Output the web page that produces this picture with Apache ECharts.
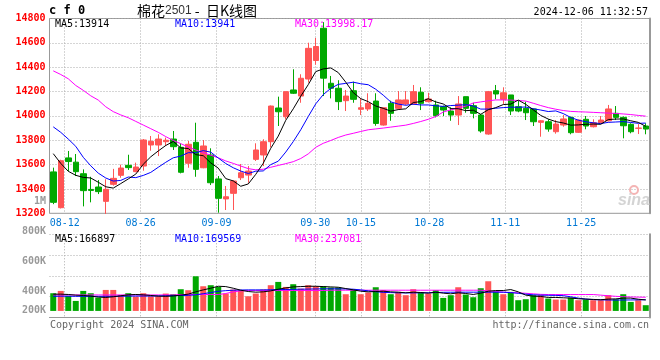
<!DOCTYPE html>
<html><head><meta charset="utf-8">
<script src="https://cdn.jsdelivr.net/npm/echarts@6/dist/echarts.min.js"></script>
<style>html,body{margin:0;padding:0;background:#fff}#c{width:660px;height:360px}</style>
</head><body><div id="c"></div>
<script>
const dates = ['08-08','08-09','08-12','08-13','08-14','08-15','08-16','08-19','08-20','08-21','08-22','08-23','08-26','08-27','08-28','08-29','08-30','09-02','09-03','09-04','09-05','09-06','09-09','09-10','09-11','09-12','09-13','09-18','09-19','09-20','09-23','09-24','09-25','09-26','09-27','09-30','10-08','10-09','10-10','10-11','10-14','10-15','10-16','10-17','10-18','10-21','10-22','10-23','10-24','10-25','10-28','10-29','10-30','10-31','11-01','11-04','11-05','11-06','11-07','11-08','11-11','11-12','11-13','11-14','11-15','11-18','11-19','11-20','11-21','11-22','11-25','11-26','11-27','11-28','11-29','12-02','12-03','12-04','12-05','12-06'];
const opens = [13540,13246,13655,13620,13525,13396,13416,13298,13438,13512,13594,13542,13588,13761,13761,13788,13810,13742,13611,13783,13574,13679,13482,13318,13364,13492,13514,13643,13679,13788,14065,13993,14213,14163,14303,14455,14720,14268,14227,14125,14207,14054,14057,14122,13925,14103,14062,14098,14098,14194,14117,14090,14076,14040,14007,14158,14084,14007,13851,14207,14136,14172,14076,14062,14057,13947,13952,13870,13925,13988,13865,13972,13911,13944,13960,14021,13988,13931,13898,13917];
const closes = [13290,13632,13625,13542,13386,13388,13378,13397,13487,13572,13575,13580,13802,13791,13810,13800,13747,13537,13767,13561,13753,13451,13323,13336,13465,13533,13547,13720,13788,14081,14034,14199,14186,14309,14555,14570,14310,14227,14117,14163,14136,14067,14103,13938,14067,14021,14131,14131,14199,14103,14139,14002,14048,14007,14098,14062,14021,13876,14199,14180,14190,14040,14040,14026,13952,13960,13892,13933,13975,13862,13966,13917,13944,13966,14057,13988,13919,13870,13900,13892];
const highs = [13575,13640,13712,13687,13561,13500,13473,13480,13565,13600,13681,13616,13810,13835,13849,13822,13876,13775,13794,13944,13802,13734,13506,13424,13470,13605,13588,13775,13808,14085,14158,14200,14383,14342,14601,14640,14770,14328,14293,14213,14281,14144,14186,14186,14070,14125,14204,14204,14254,14235,14190,14125,14085,14071,14163,14158,14108,14015,14205,14254,14235,14172,14125,14117,14060,13965,13972,13966,14007,13995,13970,13999,13972,13999,14090,14081,13995,13939,13933,13939];
const lows = [13275,13240,13545,13506,13257,13290,13358,13195,13427,13492,13556,13538,13550,13714,13670,13753,13720,13528,13574,13500,13570,13432,13205,13227,13227,13473,13451,13630,13588,13742,13917,13972,14180,14108,14273,14420,14163,14144,14048,14040,14108,14007,14040,13919,13920,13960,14050,14090,14090,14048,14110,13988,13999,13960,13925,14026,13980,13862,13845,14136,14098,14007,14030,13966,13917,13829,13870,13854,13911,13849,13860,13890,13905,13940,13955,13966,13816,13857,13851,13849];
const ma5 = [13690,13610,13545,13512,13495,13490,13455,13418,13407,13444,13482,13522,13603,13664,13712,13757,13790,13737,13732,13682,13673,13614,13571,13485,13466,13422,13441,13520,13611,13734,13834,13964,14058,14162,14257,14364,14386,14394,14356,14277,14191,14142,14117,14081,14062,14039,14052,14058,14110,14117,14141,14115,14098,14060,14059,14043,14047,14013,14051,14068,14093,14097,14130,14095,14050,14004,13974,13953,13942,13924,13926,13931,13933,13931,13970,13974,13975,13960,13947,13914];
const ma10 = [13910,13865,13810,13750,13660,13590,13530,13490,13465,13470,13498,13493,13511,13536,13578,13619,13656,13670,13698,13697,13715,13702,13654,13609,13574,13547,13527,13546,13548,13600,13628,13703,13789,13886,13995,14099,14175,14226,14259,14267,14277,14264,14256,14219,14170,14115,14097,14087,14096,14090,14090,14083,14078,14085,14088,14092,14081,14056,14056,14063,14068,14072,14071,14073,14059,14048,14036,14041,14019,13987,13965,13952,13943,13937,13947,13950,13953,13946,13939,13941];
const ma30 = [14370,14340,14305,14250,14210,14165,14130,14075,14035,14008,13985,13955,13925,13895,13865,13830,13798,13772,13745,13720,13698,13677,13656,13630,13610,13588,13567,13557,13562,13578,13593,13608,13624,13650,13688,13742,13775,13798,13823,13843,13857,13872,13886,13893,13900,13908,13916,13924,13938,13954,13972,13995,14032,14050,14064,14080,14106,14115,14124,14131,14131,14130,14126,14122,14104,14085,14068,14055,14044,14037,14034,14032,14029,14026,14023,14020,14016,14011,14004,13998];
// volume in thousands (K)
const volumes = [269,304,228,152,304,269,202,319,319,243,269,217,269,223,223,264,254,330,315,527,375,391,365,264,325,315,223,264,325,391,441,365,406,340,391,375,375,356,356,254,325,254,280,360,315,254,289,239,330,284,264,315,198,239,360,249,208,345,451,299,254,289,163,178,239,239,188,173,173,204,163,173,163,163,239,178,254,137,163,87];
const volMa5 = [254,255,250,240,235,225,210,205,215,230,245,250,245,235,225,222,228,240,255,290,320,345,375,370,345,315,295,285,290,305,330,350,365,370,375,375,370,365,360,340,320,300,290,295,300,290,285,275,285,280,270,285,270,260,275,265,250,270,300,310,310,325,290,240,225,220,205,205,200,195,185,180,175,170,180,183,195,195,178,167];
const volMa10 = [222,224,224,222,222,222,222,222,222,224,225,226,226,226,228,230,232,234,237,245,262,280,298,308,315,318,320,320,320,322,324,326,328,330,332,334,336,336,336,334,330,320,305,292,282,278,275,274,274,275,276,280,283,284,285,285,285,285,285,285,284,278,268,255,245,240,238,236,232,215,195,180,172,168,166,165,166,167,168,170];
const volMa30 = [243,243,243,243,243,243,243,243,243,243,243,243,243,243,243,243,243,249,249,249,249,249,249,265,290,305,310,310,310,310,310,310,310,310,310,310,310,315,315,315,315,315,315,315,315,315,315,315,315,315,315,315,315,315,315,315,315,315,305,295,285,280,275,268,260,252,249,249,249,249,249,249,249,240,230,222,216,212,210,208];
const xLabelDates = ['08-12','08-26','09-09','09-30','10-15','10-28','11-11','11-25'];
const priceMin = 13200, priceMax = 14800, priceStep = 200;
const volTickLabels = ['800K','600K','400K','200K'];
const priceLegend = ['MA5:13914','MA10:13941','MA30:13998.17'];
const volLegend = ['MA5:166897','MA10:169569','MA30:237081'];

const MONO = "'DejaVu Sans Mono','Liberation Mono',monospace";
const RED = '#ff5555', GREEN = '#00a800', GRID = '#aaaaaa', FRAME = '#999999';
const isLabel = (idx, val) => xLabelDates.indexOf(val) >= 0;

function txt(text, x, y, fill, font, align) {
  return {type:'text', x:x, y:y, silent:true, z:100,
    style:{text:text, fill:fill, font:font || ('10px ' + MONO), textAlign:align || 'left', textVerticalAlign:'middle'}};
}

const chart = echarts.init(document.getElementById('c'), null, {renderer:'canvas'});
const dotted = {color:GRID, type:[1,2], width:1};

const graphics = [
  txt('c f 0', 49, 11, '#000', 'bold 12px ' + MONO),
  {type:'text', x:137, y:11, silent:true, style:{text:'{cn|棉花}{num|2501}{cn| -  日K线图}', textVerticalAlign:'middle',
    rich:{cn:{fontFamily:"'Noto Sans CJK SC'", fontSize:14, fill:'#000'}, num:{fontFamily:"'Liberation Sans',sans-serif", fontSize:12, fill:'#333'}}}},
  txt('2024-12-06 11:32:57', 648, 12, '#000', '10px ' + MONO, 'right'),
  txt(priceLegend[0], 55, 24, '#000'),
  txt(priceLegend[1], 175, 24, '#0000ff'),
  txt(priceLegend[2], 295, 24, '#ff00ff'),
  txt(volLegend[0], 55, 239, '#000'),
  txt(volLegend[1], 175, 239, '#0000ff'),
  txt(volLegend[2], 295, 239, '#ff00ff'),
  txt('1M', 46, 201, '#999', 'bold 10px ' + MONO, 'right'),
  txt(volTickLabels[0], 46, 231, '#999', 'bold 10px ' + MONO, 'right'),
  txt(volTickLabels[1], 46, 261, '#999', 'bold 10px ' + MONO, 'right'),
  txt(volTickLabels[2], 46, 291, '#999', 'bold 10px ' + MONO, 'right'),
  txt(volTickLabels[3], 46, 310, '#999', 'bold 10px ' + MONO, 'right'),
  txt('Copyright 2024 SINA.COM', 50, 325, '#666'),
  txt('http://finance.sina.com.cn', 649, 325, '#666', '10px ' + MONO, 'right'),
  {type:'circle', shape:{cx:634, cy:190, r:4}, silent:true, z:1, style:{fill:'none', stroke:'#f4b4b4', lineWidth:2}},
  txt('sina', 618, 201, '#d4d4d4', 'italic bold 16px Arial, sans-serif')
];

const option = {
  animation:false,
  backgroundColor:'#fff',
  graphic: graphics,
  grid:[
    {left:49.5, width:600, top:18.5, height:194.8, show:true, borderColor:FRAME, borderWidth:1, backgroundColor:'transparent'},
    {left:49.5, width:600, top:234.3, height:83.2, show:false}
  ],
  xAxis:[
    {type:'category', gridIndex:0, data:dates, boundaryGap:true, show:false},
    {type:'category', gridIndex:0, data:dates, boundaryGap:false, position:'bottom',
     axisLine:{show:false}, axisTick:{show:false},
     axisLabel:{interval:isLabel, color:'#0078d4', fontFamily:MONO, fontSize:10, margin:5},
     splitLine:{show:true, interval:isLabel, lineStyle:dotted}},
    {type:'category', gridIndex:1, data:dates, boundaryGap:true, show:false},
    {type:'category', gridIndex:1, data:dates, boundaryGap:false, position:'bottom',
     axisLine:{show:true, onZero:false, lineStyle:{color:FRAME, width:1}}, axisTick:{show:false},
     axisLabel:{show:false},
     splitLine:{show:true, interval:isLabel, lineStyle:dotted}}
  ],
  yAxis:[
    {type:'value', gridIndex:0, min:priceMin, max:priceMax, interval:priceStep,
     axisLine:{show:false}, axisTick:{show:false},
     axisLabel:{color:'#ff0000', fontFamily:MONO, fontSize:10, fontWeight:'bold', margin:4, padding:[0,0,3,0],
       formatter: v => String(v)},
     splitLine:{show:true, lineStyle:dotted}},
    {type:'value', gridIndex:0, position:'right', min:priceMin, max:priceMax,
     axisLine:{show:true, lineStyle:{color:FRAME, width:2}}, axisTick:{show:false}, axisLabel:{show:false}, splitLine:{show:false}},
    {type:'value', gridIndex:1, min:-100, max:1165, show:false, splitLine:{show:false}},
    {type:'value', gridIndex:1, min:0, max:4, interval:1,
     axisLine:{show:true, lineStyle:{color:FRAME, width:1}}, axisTick:{show:false}, axisLabel:{show:false},
     splitLine:{show:true, lineStyle:dotted}},
    {type:'value', gridIndex:1, position:'right', min:0, max:4, interval:1,
     axisLine:{show:true, lineStyle:{color:FRAME, width:2}}, axisTick:{show:false}, axisLabel:{show:false}, splitLine:{show:false}}
  ],
  series:[
    {type:'candlestick', xAxisIndex:0, yAxisIndex:0, barWidth:6,
     data: dates.map((d, i) => [opens[i], closes[i], lows[i], highs[i]]),
     itemStyle:{color:RED, color0:GREEN, borderColor:RED, borderColor0:GREEN, borderWidth:1}},
    {type:'line', xAxisIndex:0, yAxisIndex:0, data:ma30, showSymbol:false, lineStyle:{color:'#ff00ff', width:1}, z:3},
    {type:'line', xAxisIndex:0, yAxisIndex:0, data:ma10, showSymbol:false, lineStyle:{color:'#0000ff', width:1}, z:3},
    {type:'line', xAxisIndex:0, yAxisIndex:0, data:ma5, showSymbol:false, lineStyle:{color:'#000000', width:1}, z:3},
    {type:'bar', xAxisIndex:2, yAxisIndex:2, barWidth:6,
     data: volumes.map((v, i) => ({value:v, itemStyle:{color: closes[i] >= opens[i] ? RED : GREEN}}))},
    {type:'line', xAxisIndex:2, yAxisIndex:2, data:volMa30, showSymbol:false, lineStyle:{color:'#ff00ff', width:1}, z:3},
    {type:'line', xAxisIndex:2, yAxisIndex:2, data:volMa10, showSymbol:false, lineStyle:{color:'#0000ff', width:1}, z:3},
    {type:'line', xAxisIndex:2, yAxisIndex:2, data:volMa5, showSymbol:false, lineStyle:{color:'#000000', width:1}, z:3}
  ]
};
chart.setOption(option);
</script>
</body></html>
